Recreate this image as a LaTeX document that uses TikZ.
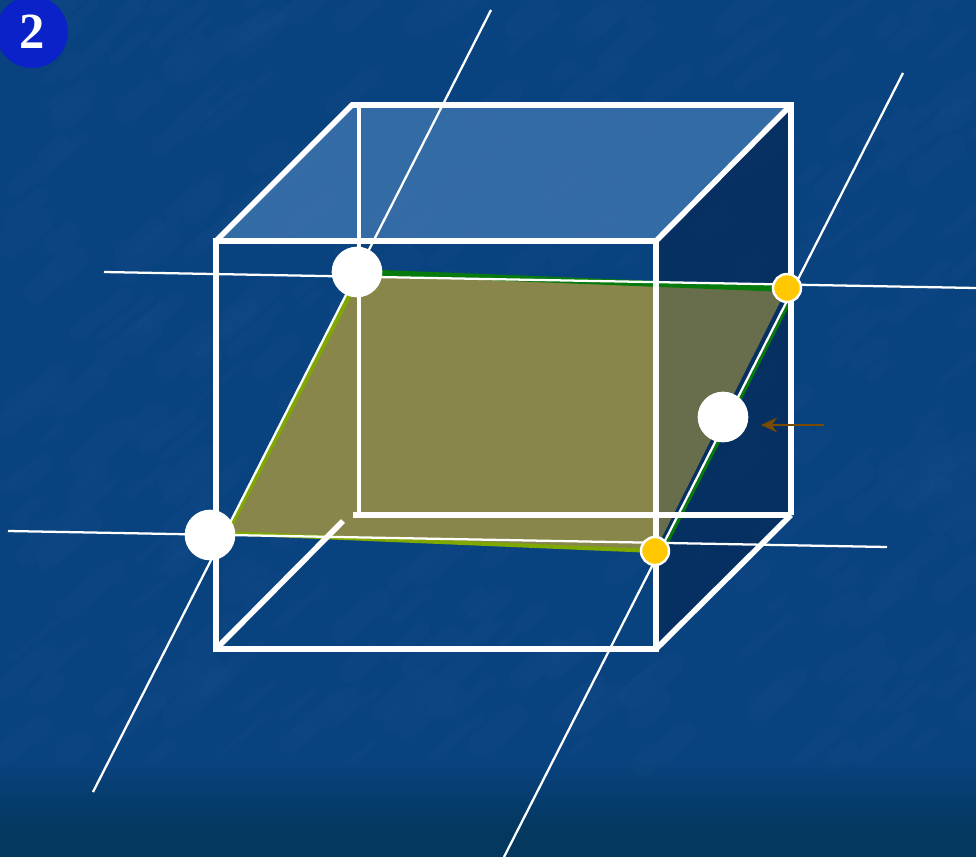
\documentclass[tikz,border=0pt]{standalone}
\usepackage{fontspec}
\setmainfont{Liberation Serif}
\usetikzlibrary{arrows.meta}
\definecolor{azulfondo}{HTML}{09437F}
\definecolor{azulbajo}{HTML}{04385F}
\definecolor{azulbrillo}{HTML}{5E93CC}
\definecolor{azuldisco}{HTML}{0A22C8}
\definecolor{azuloscuro}{HTML}{04234F}
\definecolor{olivoplano}{HTML}{88864A}
\definecolor{verdeborde}{HTML}{067A0C}
\definecolor{verdeclaro}{HTML}{7FA800}
\definecolor{amarillopunto}{HTML}{FFC800}
\definecolor{cafeflecha}{HTML}{7A4A00}
\tikzset{
  aristaCubo/.style={draw=white, line width=4.2pt},
  rectaFina/.style={draw=white, line width=1.7pt},
  puntoBlanco/.style={circle, fill=white, minimum size=38pt, inner sep=0pt},
  puntoAmarillo/.style={circle, draw=white, line width=1.8pt, fill=amarillopunto,
    minimum size=21pt, inner sep=0pt},
  flechaCafe/.style={-{Stealth[length=12pt,width=11pt]}, line width=2pt, cafeflecha},
}
\begin{document}
\begin{tikzpicture}[x=0.75pt, y=-0.75pt]
    \useasboundingbox (0,0) rectangle (976,857);
    \clip (0,0) rectangle (976,857);
    % fondo
    \fill[azulfondo] (0,0) rectangle (976,760);
    \shade[top color=azulfondo, bottom color=azulbajo] (0,760) rectangle (976,830);
    \fill[azulbajo] (0,829.5) rectangle (976,857);
    \pgfmathsetseed{4242}
    \foreach \i in {1,...,420}{
      \pgfmathsetmacro{\px}{rnd*976}
      \pgfmathsetmacro{\py}{rnd*770}
      \pgfmathsetmacro{\largo}{10+rnd*40}
      \pgfmathsetmacro{\ancho}{4+rnd*16}
      \draw[azulbrillo, opacity=0.025, line width=\ancho pt, line cap=round]
        (\px,\py) -- ++(\largo,-\largo*0.8);
    }
    % vertices
    \coordinate (fa) at (216,241);
    \coordinate (fb) at (656,241);
    \coordinate (fc) at (656,649);
    \coordinate (fd) at (216,649);
    \coordinate (ta) at (352,105);
    \coordinate (tb) at (791,105);
    \coordinate (tc) at (791,515);
    \coordinate (pa) at (357,272);
    \coordinate (pb) at (787,288);
    \coordinate (pc) at (655,551);
    \coordinate (pd) at (210,535);
    \coordinate (pe) at (224,533);
    % caras
    \fill[azulbrillo, opacity=0.5] (fa) -- (ta) -- (tb) -- (fb) -- cycle;
    \fill[azuloscuro, opacity=0.6] (fb) -- (tb) -- (tc) -- (fc) -- cycle;
    % plano
    \fill[olivoplano] (pa) -- (pb) -- (pc) -- (pe) -- cycle;
    \fill[azuloscuro, opacity=0.24] (656,280) -- (pb) -- (pc) -- (656,551) -- cycle;
    \draw[verdeborde, line width=4.5pt] (pa) -- (787,289);
    \draw[verdeborde, line width=2.2pt] (794,293) -- (665,547);
    \draw[verdeclaro, line width=3.4pt] (356,282) -- (227,533);
    \draw[verdeclaro, line width=3pt] (pe) -- (pc);
    % rectas
    \coordinate (r1a) at (104,272);
    \coordinate (r1b) at (976,288);
    \coordinate (r2a) at (8,531);
    \coordinate (r2b) at (887,547);
    \coordinate (r3a) at (491,10);
    \coordinate (r3b) at (93,792);
    \coordinate (r4a) at (903,73);
    \coordinate (r4b) at (504,857);
    \draw[rectaFina] (r1a) -- (r1b);
    \draw[rectaFina] (r2a) -- (r2b);
    \draw[rectaFina] (r3a) -- (r3b);
    \draw[rectaFina] (r4a) -- (r4b);
    % cubo
    \draw[aristaCubo] (fa) -- (fb) -- (fc) -- (fd) -- cycle;
    \draw[aristaCubo] (fa) -- (ta) -- (tb) -- (tc);
    \draw[aristaCubo] (fb) -- (tb);
    \draw[aristaCubo] (fc) -- (tc);
    \draw[aristaCubo] (tc) -- (353,515);
    \draw[aristaCubo, line width=3.6pt] (359,108) -- (359,512);
    \draw[aristaCubo] (fd) -- (343,521);
    % puntos
    \node[puntoBlanco] (ptA) at (pa) {};
    \node[puntoBlanco] (ptD) at (pd) {};
    \node[puntoBlanco] (ptM) at (723,417) {};
    \node[puntoAmarillo] (ptB) at (pb) {};
    \node[puntoAmarillo] (ptC) at (pc) {};
    \coordinate (colaFlecha) at (824,425);
    \coordinate (puntaFlecha) at (761,425);
    \draw[flechaCafe] (colaFlecha) -- (puntaFlecha);
    % numero
    \node[circle, fill=azuldisco, minimum size=54pt, inner sep=0pt,
      font=\bfseries\fontsize{38}{38}\selectfont, text=white] (numero) at (32,32) {2};
  \end{tikzpicture}
\end{document}
